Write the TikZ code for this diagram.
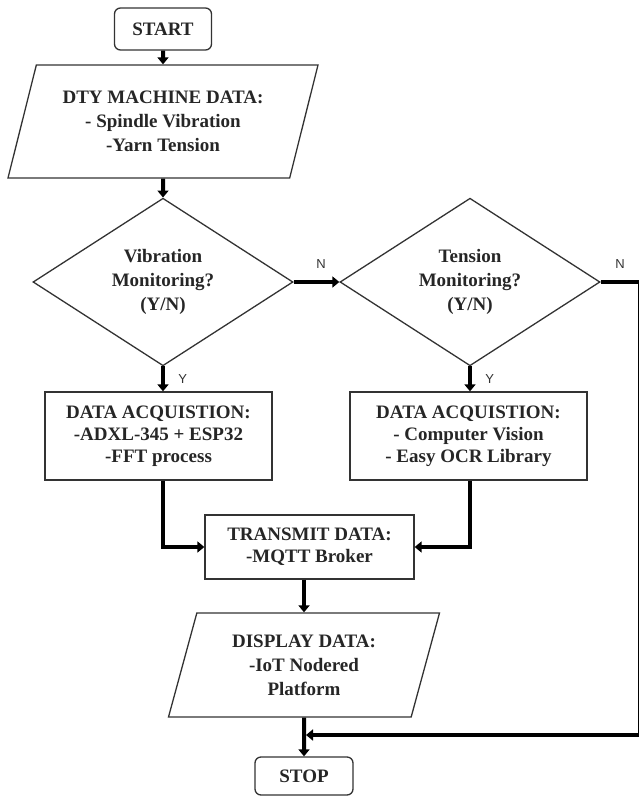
\documentclass[tikz,border=0pt]{standalone}
\usepackage{fontspec}
\setmainfont{Liberation Serif}
\newfontfamily\ynfont{Liberation Sans}
\usetikzlibrary{shapes, arrows.meta, positioning, calc}
\tikzstyle{terminal} = [rectangle, rounded corners=6pt, draw=black!80, line width=1.3pt, text=black!85, align=center, font=\bfseries\fontsize{19}{23}\selectfont]
\tikzstyle{process} = [rectangle, draw=black!80, line width=1.3pt, text=black!85, align=center, inner sep=0pt, font=\bfseries\fontsize{19}{22}\selectfont]
\tikzstyle{io} = [trapezium, trapezium left angle=65, trapezium right angle=115, trapezium stretches body, draw=black!80, line width=1.3pt, text=black!85, align=center, inner sep=0pt, font=\bfseries\fontsize{19}{24}\selectfont]
\tikzstyle{decision} = [diamond, minimum width=260pt, minimum height=167pt, inner sep=0pt, draw=black!80, line width=1.3pt, text=black!85, align=center, font=\bfseries\fontsize{19}{24}\selectfont]
\tikzstyle{arrow} = [line width=4pt, -{Triangle[length=7pt,width=11pt]}]
\tikzstyle{yn} = [font=\ynfont\fontsize{13}{13}\selectfont, text=black!80]

\begin{document}
\begin{tikzpicture}[x=1pt, y=-1pt]
\useasboundingbox (0,0) rectangle (639,796);
\node (h1) [terminal, minimum width=97pt, minimum height=42pt] at (163,29) {START};
\node (h2) [io, minimum width=310pt, minimum height=113pt] at (163,121.5) {DTY MACHINE DATA:\\- Spindle Vibration\\-Yarn Tension};
\node (h3) [decision] at (163,282) {Vibration\\Monitoring?\\(Y/N)};
\node (h4) [decision] at (470,282) {Tension\\Monitoring?\\(Y/N)};
\node (h5) [process, minimum width=227pt, minimum height=88pt] at (158.5,436) {DATA ACQUISTION:\\-ADXL-345 + ESP32\\-FFT process};
\node (h6) [process, minimum width=237pt, minimum height=88pt] at (468.5,436) {DATA ACQUISTION:\\- Computer Vision\\- Easy OCR Library};
\node (h7) [process, minimum width=209pt, minimum height=64pt] at (309.5,547) {TRANSMIT DATA:\\-MQTT Broker};
\node (h8) [io, minimum width=271pt, minimum height=104pt] at (304,665) {DISPLAY DATA:\\-IoT Nodered\\Platform};
\node (h9) [terminal, minimum width=98pt, minimum height=38pt] at (304,776) {STOP};
\coordinate (j) at (304,735);

\draw[arrow] (h1.south) -- (h2.north);
\draw[arrow] (h2.south) -- (h3.north);
\draw[arrow] (h3.east) -- node[yn, above=8pt, pos=0.6] {N} (h4.west);
\draw[arrow] (h3.south) -- node[yn, right=10pt] {Y} (h3.south |- h5.north);
\draw[arrow] (h4.south) -- node[yn, right=10pt] {Y} (h4.south |- h6.north);
\draw[arrow] (h3.south |- h5.south) |- (h7.west);
\draw[arrow] (h4.south |- h6.south) |- (h7.east);
\draw[arrow] (h8.north |- h7.south) -- (h8.north);
\draw[arrow] (h8.south) -- (h9.north);
\draw[arrow, shorten >=2pt] (h4.east) -- ++(39,0) node[yn, above=8pt, midway] {N} |- (j);
\end{tikzpicture}
\end{document}
